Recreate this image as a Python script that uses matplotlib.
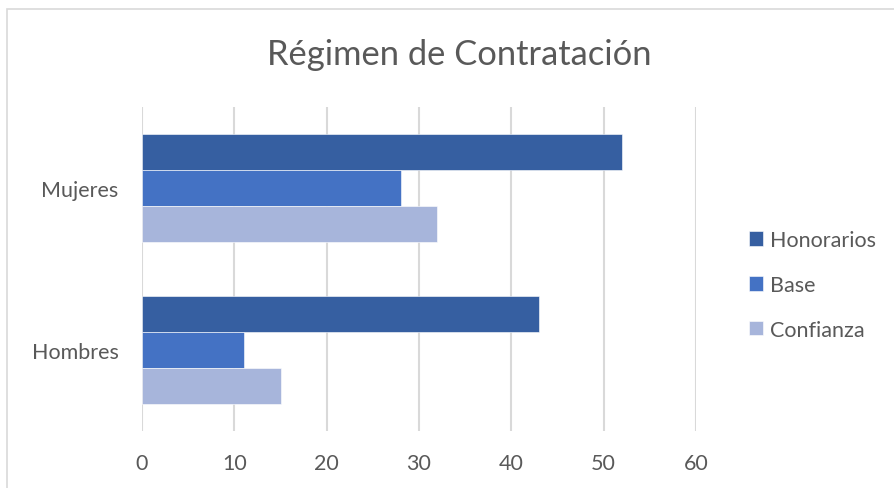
import numpy as np
import matplotlib.pyplot as plt
from matplotlib.patches import Rectangle

# region data
categories = ['Hombres', 'Mujeres']
series_names = ['Honorarios', 'Base', 'Confianza']
honorarios = [43, 52]
base = [11, 28]
confianza = [15, 32]
x_ticks = [0, 10, 20, 30, 40, 50, 60]
# endregion

colors = ['#365FA1', '#4472C4', '#A7B5DB']
txt = '#595959'
font = 'Lato'

fig = plt.figure(figsize=(8.95, 4.89), dpi=100)
ax = fig.add_axes([142 / 895, 1 - 432 / 489, (696 - 142) / 895, (432 - 108) / 489])

# outer chart border (cropped on right/bottom like the original)
fig.patches.append(Rectangle((7 / 895, -0.1), 1.2, 1 - 10 / 489 + 0.1,
                             transform=fig.transFigure, fill=False,
                             edgecolor='#D9D9D9', linewidth=1.2))

y = np.arange(len(categories))
h = 0.222
offsets = [h, 0, -h]
for vals, off, col, name in zip([honorarios, base, confianza], offsets, colors, series_names):
    ax.barh(y + off, vals, height=h, color=col, edgecolor='#FFFFFF',
            linewidth=0.4, label=name, zorder=3)

ax.set_xlim(0, 60)
ax.set_ylim(-0.5, 1.5)
ax.set_xticks(x_ticks)
ax.set_yticks(y)
ax.set_yticklabels(categories)
ax.grid(axis='x', color='#D9D9D9', linewidth=1.5, zorder=0)
ax.tick_params(axis='both', length=0, labelsize=15.5, labelcolor=txt)
ax.tick_params(axis='x', pad=16)
ax.tick_params(axis='y', pad=17)
for lab in ax.get_xticklabels() + ax.get_yticklabels():
    lab.set_family(font)
for s in ax.spines.values():
    s.set_visible(False)

fig.text(459 / 895, 1 - 55 / 489, 'Régimen de Contratación', ha='center', va='center',
         fontsize=24.8, color=txt, family=font)

leg = ax.legend(loc='center left', bbox_to_anchor=(738 / 895, 1 - 286 / 489),
                bbox_transform=fig.transFigure, frameon=False,
                prop={'family': font, 'size': 15.5}, labelcolor=txt,
                handlelength=0.65, handleheight=0.65, handletextpad=0.35,
                labelspacing=1.15, borderpad=0)

fig.savefig('out.png', dpi=100)
